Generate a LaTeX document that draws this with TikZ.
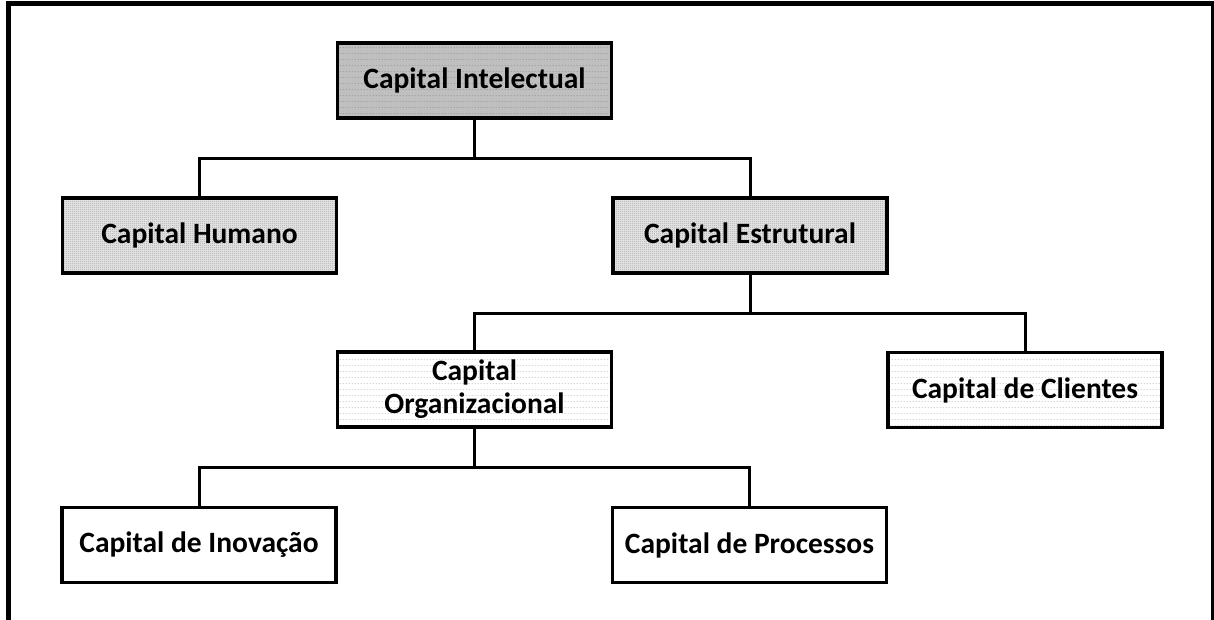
\documentclass[tikz,border=0pt]{standalone}
\usepackage{fontspec}
\setmainfont{Carlito}
\usetikzlibrary{patterns}

% Fine dot screens used as box fills
\pgfdeclarepatternformonly{sparsedots}{\pgfqpoint{0pt}{0pt}}{\pgfqpoint{3pt}{6pt}}{\pgfqpoint{3pt}{6pt}}{%
  \pgfpathrectangle{\pgfqpoint{1pt}{2.5pt}}{\pgfqpoint{0.8pt}{0.8pt}}\pgfusepath{fill}}
\pgfdeclarepatternformonly{densedots}{\pgfqpoint{0pt}{0pt}}{\pgfqpoint{2pt}{2pt}}{\pgfqpoint{2pt}{2pt}}{%
  \pgfpathrectangle{\pgfqpoint{0.5pt}{0.5pt}}{\pgfqpoint{0.8pt}{0.8pt}}\pgfusepath{fill}}

\tikzset{
  box/.style={draw=black, line width=3.3pt, minimum width=274pt, minimum height=75pt,
    inner sep=0pt, align=center, font=\fontsize{29.5}{33}\selectfont\bfseries},
  rootbox/.style={box, preaction={fill=black!25}, pattern=sparsedots, pattern color=black!55},
  midbox/.style={box, preaction={fill=black!12}, pattern=densedots, pattern color=black!45},
  lowbox/.style={box, preaction={fill=white}, pattern=sparsedots, pattern color=black!45},
  plainbox/.style={box, fill=white},
  link/.style={draw=black, line width=3pt},
  frame/.style={draw=black, line width=4.8pt}
}

\begin{document}
\begin{tikzpicture}[x=1pt, y=-1pt]
\useasboundingbox (0,0) rectangle (1214,620);

% open frame around the chart
\coordinate (fbl) at (8.5,625);
\coordinate (ftl) at (8.5,3.8);
\coordinate (ftr) at (1213,3.8);
\coordinate (fbr) at (1213,625);
\draw[frame] (fbl) -- (ftl) -- (ftr) -- (fbr);

% boxes
\node[rootbox] (ci)  at (474.5,80.5) {Capital Intelectual};
\node[midbox]  (ch)  at (199.5,235.5) {Capital Humano};
\node[midbox]  (ce)  at (750,235.5) {Capital Estrutural};
\node[lowbox]  (co)  at (474.5,389.5) {Capital\\Organizacional};
\node[lowbox]  (cc)  at (1025,390) {Capital de Clientes};
\node[plainbox] (cin) at (199,545) {Capital de Inovação};
\node[plainbox] (cp)  at (749.5,545) {Capital de Processos};

% tree connectors
\draw[link] (ci.south) -- ++(0,38.5) -| (ch.north);
\draw[link] (ci.south) ++(0,38.5) -| (ce.north);
\draw[link] (ce.south) -- ++(0,38.5) -| (co.north);
\draw[link] (ce.south) ++(0,38.5) -| (cc.north);
\draw[link] (co.south) -- ++(0,38.5) -| (cin.north);
\draw[link] (co.south) ++(0,38.5) -| (cp.north);
\end{tikzpicture}
\end{document}
